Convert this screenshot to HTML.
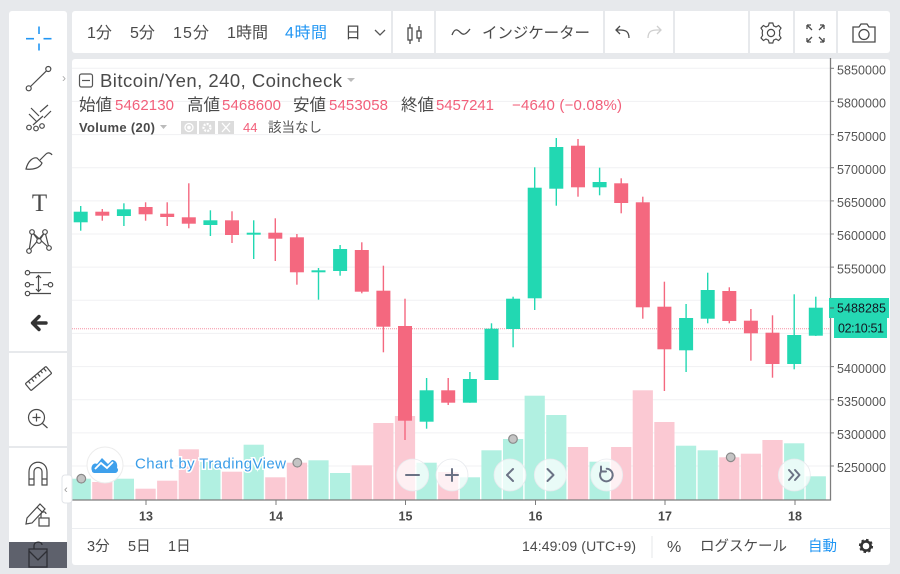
<!DOCTYPE html>
<html><head><meta charset="utf-8">
<style>
html,body{margin:0;padding:0;background:#e7e9ec;}
svg{display:block;}
text{font-family:"Liberation Sans","Noto Sans CJK JP",sans-serif;}
</style></head><body>
<svg width="900" height="574" viewBox="0 0 900 574" xmlns="http://www.w3.org/2000/svg">
<rect width="900" height="574" fill="#e7e9ec"/>
<!-- panels -->
<rect x="9" y="11" width="58" height="557" rx="3" fill="#fff"/>
<rect x="72" y="11" width="818" height="42" rx="3" fill="#fff"/>
<rect x="72" y="59" width="818" height="506" rx="3" fill="#fff"/>
<!-- toolbar separators -->
<g stroke="#e7e9ec" stroke-width="2">
<line x1="392" y1="11" x2="392" y2="53"/><line x1="435" y1="11" x2="435" y2="53"/>
<line x1="604" y1="11" x2="604" y2="53"/><line x1="674" y1="11" x2="674" y2="53"/>
<line x1="749" y1="11" x2="749" y2="53"/><line x1="794" y1="11" x2="794" y2="53"/>
<line x1="837" y1="11" x2="837" y2="53"/>
<line x1="9" y1="352" x2="67" y2="352"/><line x1="9" y1="447" x2="67" y2="447"/>
</g>
<!-- top toolbar text -->
<g font-size="16" fill="#4a4a4a">
<text x="87" y="38">1分</text>
<text x="130" y="38">5分</text>
<text x="173" y="38" textLength="36">15分</text>
<text x="227" y="38" textLength="41">1時間</text>
<text x="285" y="38" textLength="42" fill="#2196f3">4時間</text>
<text x="345" y="38">日</text>
<text x="482" y="38" textLength="108" font-size="15.5">インジケーター</text>
</g>
<path d="M375 30 L380 35 L385 30" stroke="#555" stroke-width="1.3" fill="none"/>
<!-- candle icon -->
<g stroke="#4a4a4a" stroke-width="1.3" fill="none">
<line x1="410" y1="24" x2="410" y2="44"/><rect x="408" y="28" width="4" height="12" fill="#fff"/>
<line x1="419" y1="26" x2="419" y2="42"/><rect x="417" y="31" width="4" height="7" fill="#fff"/>
<path d="M452 35 C455 27 458 30 461 33 C464 36 467 33 470 29"/>
<path d="M629 38 C629 31 625 30 620 30 H616 M620 26 L616 30 L620 34"/>
</g>
<path d="M648 38 C648 31 652 30 657 30 H661 M657 26 L661 30 L657 34" stroke="#cfcfcf" stroke-width="1.3" fill="none"/>
<!-- gear -->
<g transform="translate(771,33)" stroke="#4a4a4a" stroke-width="1.2" fill="none">
<circle r="3.6"/>
<path d="M-1.8 -10 L1.8 -10 L2.6 -7.2 L5 -6 L7.6 -7.5 L10 -4.9 L8.4 -2.4 L8.8 0 L8.4 2.4 L10 4.9 L7.6 7.5 L5 6 L2.6 7.2 L1.8 10 L-1.8 10 L-2.6 7.2 L-5 6 L-7.6 7.5 L-10 4.9 L-8.4 2.4 L-8.8 0 L-8.4 -2.4 L-10 -4.9 L-7.6 -7.5 L-5 -6 L-2.6 -7.2 Z"/>
</g>
<!-- fullscreen / camera -->
<g stroke="#4a4a4a" stroke-width="1.3" fill="none">
<path d="M807 25 L812 30 M807 25 H811 M807 25 V29"/>
<path d="M824 25 L819 30 M824 25 H820 M824 25 V29"/>
<path d="M807 42 L812 37 M807 42 H811 M807 42 V38"/>
<path d="M824 42 L819 37 M824 42 H820 M824 42 V38"/>
<path d="M853 27 H859 L861 24 H867 L869 27 H875 V42 H853 Z"/>
<circle cx="864" cy="34.5" r="5"/>
</g>
<!-- left toolbar icons -->
<g stroke="#2196f3" stroke-width="1.6">
<line x1="26" y1="38.7" x2="34" y2="38.7"/><line x1="43.5" y1="38.7" x2="51.5" y2="38.7"/>
<line x1="39" y1="26.5" x2="39" y2="34"/><line x1="39" y1="43.5" x2="39" y2="50.5"/>
</g>
<g stroke="#4a4a4a" stroke-width="1.2" fill="none">
<line x1="30.5" y1="86.5" x2="46.5" y2="70.8"/>
<circle cx="28.7" cy="88.3" r="2.5"/><circle cx="48.3" cy="69" r="2.5"/>
<!-- pitchfork -->
<path d="M31 108 L39 116 M29 114 L37 122 M40 112 L48 105 M44 118 L51 111 M33 125 L43 116"/>
<circle cx="29" cy="127.5" r="2.3"/><circle cx="36" cy="128.5" r="2.3"/><circle cx="42" cy="126" r="2.3"/>
<!-- brush -->
<path d="M26 169 C28 161 33 157 37 158 L42 163 C40 168 33 170 26 169 Z"/>
<path d="M40 160 L46 154 C48 152 51 153 52 155"/>
<!-- pattern -->
<path d="M29 251 L32 232 L39 241 L45 232 L49 248 M29 251 L45 232 M32 232 L49 248"/>
<circle cx="29" cy="251" r="2.3" fill="#fff"/><circle cx="32" cy="232" r="2.3" fill="#fff"/><circle cx="39" cy="241" r="2.3" fill="#fff"/><circle cx="45" cy="232" r="2.3" fill="#fff"/><circle cx="49" cy="248" r="2.3" fill="#fff"/>
<!-- fib -->
<path d="M30 272.7 H51 M30 284.7 H34 M43 284.7 H48 M30 293.5 H51 M38.5 276 V291 M36 278 L38.5 275.5 L41 278 M36 289 L38.5 291.5 L41 289"/>
<circle cx="27.5" cy="272.7" r="2.2"/><circle cx="27.5" cy="284.7" r="2.2"/><circle cx="27.5" cy="293.5" r="2.2"/><circle cx="50.5" cy="284.7" r="2.2"/>
<!-- ruler -->
<g transform="rotate(-40 38.5 378.5)"><rect x="25" y="374" width="27" height="9" rx="1"/>
<path d="M29 374 V377 M33 374 V378 M37 374 V377 M41 374 V378 M45 374 V377 M49 374 V378"/></g>
<!-- zoom -->
<circle cx="36.5" cy="417.5" r="8"/><path d="M42.5 423.5 L47.5 428 M32.5 417.5 H40.5 M36.5 413.5 V421.5"/>
<!-- magnet -->
<path d="M29 485 V472 C29 459 47 459 47 472 V485 H42 V472 C42 466 34 466 34 472 V485 Z M29 479 H34 M42 479 H47"/>
<!-- pencil lock -->
<path d="M27 518 L40 504 L45 509 L32 523 L26 524 Z M37 507 L42 512"/>
<rect x="39" y="518" width="10" height="8"/><path d="M41 518 V515 C41 511 46 511 46 514"/>
</g>
<path d="M46 323 H33 M39 316.5 L32.5 323 L39 329.5" stroke="#333" stroke-width="3.4" fill="none" stroke-linecap="round" stroke-linejoin="round"/>
<text x="39.5" y="211" font-size="25" fill="#4a4a4a" text-anchor="middle" style="font-family:'Liberation Serif',serif">T</text>
<text x="62" y="82" font-size="12" fill="#aaa">›</text>
<rect x="9" y="542" width="58" height="26" fill="#5e616c"/>
<path d="M29 551 L38 560 L47 551 M29 549 H47 V567 H29 Z M34 549 V546 C34 541 42 541 42 545" stroke="#2e2f35" stroke-width="1.3" fill="none"/>
<!-- gridlines -->
<g stroke="#f0f1f3" stroke-width="1">
<line x1="72" y1="68.3" x2="830" y2="68.3"/><line x1="72" y1="101.4" x2="830" y2="101.4"/>
<line x1="72" y1="134.6" x2="830" y2="134.6"/><line x1="72" y1="167.7" x2="830" y2="167.7"/>
<line x1="72" y1="200.9" x2="830" y2="200.9"/><line x1="72" y1="234" x2="830" y2="234"/>
<line x1="72" y1="267.1" x2="830" y2="267.1"/><line x1="72" y1="300.3" x2="830" y2="300.3"/>
<line x1="72" y1="333.4" x2="830" y2="333.4"/><line x1="72" y1="366.6" x2="830" y2="366.6"/>
<line x1="72" y1="399.7" x2="830" y2="399.7"/><line x1="72" y1="432.9" x2="830" y2="432.9"/>
<line x1="72" y1="466" x2="830" y2="466"/>
</g>
<!-- volume -->
<g fill="#b1f0e1">
<rect x="72" y="478.7" width="18.8" height="20.8"/>
<rect x="113.8" y="478.7" width="20.2" height="20.8"/>
<rect x="200.3" y="462" width="20.2" height="37.5"/>
<rect x="243.6" y="444.7" width="20.2" height="54.8"/>
<rect x="308.4" y="460.3" width="20.2" height="39.2"/>
<rect x="330" y="473" width="20.2" height="26.5"/>
<rect x="416.5" y="462.7" width="20.2" height="36.8"/>
<rect x="459.8" y="477.3" width="20.2" height="22.2"/>
<rect x="481.4" y="450.3" width="20.2" height="49.2"/>
<rect x="503" y="439" width="20.2" height="60.5"/>
<rect x="524.6" y="395.7" width="20.2" height="103.8"/>
<rect x="546.2" y="415" width="20.2" height="84.5"/>
<rect x="589.5" y="461.7" width="20.2" height="37.8"/>
<rect x="676" y="445.7" width="20.2" height="53.8"/>
<rect x="697.6" y="450.3" width="20.2" height="49.2"/>
<rect x="784.1" y="443.3" width="20.2" height="56.2"/>
<rect x="805.7" y="476.3" width="20.2" height="23.2"/>
</g>
<g fill="#fbc9d3">
<rect x="92.2" y="482" width="20.2" height="17.5"/>
<rect x="135.5" y="488.7" width="20.2" height="10.8"/>
<rect x="157.1" y="480.7" width="20.2" height="18.8"/>
<rect x="178.7" y="449.3" width="20.2" height="50.2"/>
<rect x="221.9" y="471.7" width="20.2" height="27.8"/>
<rect x="265.2" y="477.3" width="20.2" height="22.2"/>
<rect x="286.8" y="462.7" width="20.2" height="36.8"/>
<rect x="351.7" y="465.3" width="20.2" height="34.2"/>
<rect x="373.3" y="423" width="20.2" height="76.5"/>
<rect x="394.9" y="416" width="20.2" height="83.5"/>
<rect x="438.1" y="472" width="20.2" height="27.5"/>
<rect x="567.9" y="447" width="20.2" height="52.5"/>
<rect x="611.1" y="447" width="20.2" height="52.5"/>
<rect x="632.7" y="390.3" width="20.2" height="109.2"/>
<rect x="654.3" y="422" width="20.2" height="77.5"/>
<rect x="719.2" y="457.3" width="20.2" height="42.2"/>
<rect x="740.8" y="453.7" width="20.2" height="45.8"/>
<rect x="762.4" y="440" width="20.2" height="59.5"/>
</g>
<!-- dotted line -->
<line x1="72" y1="328.7" x2="830" y2="328.7" stroke="#f590a3" stroke-width="1" stroke-dasharray="1 1"/>
<!-- candles green -->
<g fill="#22d8b2">
<rect x="80" y="206" width="1.4" height="24.7"/><rect x="73.7" y="211.7" width="14" height="10.6"/>
<rect x="123.2" y="203.3" width="1.4" height="22.7"/><rect x="116.9" y="209.3" width="14" height="6.7"/>
<rect x="209.7" y="210.3" width="1.4" height="25.7"/><rect x="203.4" y="220.3" width="14" height="4.7"/>
<rect x="253" y="220.3" width="1.4" height="38.7"/><rect x="246.7" y="232.7" width="14" height="2"/>
<rect x="317.8" y="268" width="1.4" height="31.7"/><rect x="311.5" y="270.3" width="14" height="2"/>
<rect x="339.4" y="245" width="1.4" height="30.7"/><rect x="333.1" y="249" width="14" height="22"/>
<rect x="425.9" y="378" width="1.4" height="50.7"/><rect x="419.6" y="390.3" width="14" height="31.4"/>
<rect x="469.2" y="372" width="1.4" height="30.7"/><rect x="462.9" y="379" width="14" height="23.7"/>
<rect x="490.8" y="323.3" width="1.4" height="56.7"/><rect x="484.5" y="328.7" width="14" height="51.3"/>
<rect x="512.4" y="296.7" width="1.4" height="50.6"/><rect x="506.1" y="298.7" width="14" height="30.3"/>
<rect x="534" y="167.3" width="1.4" height="142.7"/><rect x="527.7" y="187.7" width="14" height="110.6"/>
<rect x="555.6" y="138" width="1.4" height="67.7"/><rect x="549.3" y="147" width="14" height="41.7"/>
<rect x="598.9" y="167.7" width="1.4" height="27.6"/><rect x="592.6" y="182" width="14" height="5.3"/>
<rect x="685.4" y="304" width="1.4" height="68"/><rect x="679.1" y="318" width="14" height="32.3"/>
<rect x="707" y="272.7" width="1.4" height="50.6"/><rect x="700.7" y="290" width="14" height="28.7"/>
<rect x="793.5" y="294.3" width="1.4" height="75"/><rect x="787.2" y="335" width="14" height="29"/>
<rect x="815.1" y="296.7" width="1.4" height="39.3"/><rect x="808.8" y="307.7" width="14" height="28"/>
</g>
<!-- candles red -->
<g fill="#f4687f">
<rect x="101.6" y="209" width="1.4" height="11.7"/><rect x="95.3" y="211.7" width="14" height="4"/>
<rect x="144.9" y="202.3" width="1.4" height="18.4"/><rect x="138.6" y="207" width="14" height="7.3"/>
<rect x="166.5" y="202.3" width="1.4" height="23.7"/><rect x="160.2" y="213.7" width="14" height="3.3"/>
<rect x="188.1" y="183.3" width="1.4" height="45"/><rect x="181.8" y="217.3" width="14" height="6.4"/>
<rect x="231.3" y="211.3" width="1.4" height="31.7"/><rect x="225" y="220.3" width="14" height="14.7"/>
<rect x="274.6" y="218.3" width="1.4" height="42.7"/><rect x="268.3" y="232.7" width="14" height="6"/>
<rect x="296.2" y="234" width="1.4" height="50.7"/><rect x="289.9" y="237.3" width="14" height="35"/>
<rect x="361.1" y="242.3" width="1.4" height="51"/><rect x="354.8" y="250" width="14" height="41.7"/>
<rect x="382.7" y="265.7" width="1.4" height="86.6"/><rect x="376.4" y="290.7" width="14" height="36"/>
<rect x="404.3" y="298.7" width="1.4" height="141.3"/><rect x="398" y="326" width="14" height="94.7"/>
<rect x="447.5" y="378" width="1.4" height="27"/><rect x="441.2" y="390.3" width="14" height="12.4"/>
<rect x="577.3" y="139" width="1.4" height="57.7"/><rect x="571" y="145.7" width="14" height="41.6"/>
<rect x="620.5" y="178.3" width="1.4" height="35"/><rect x="614.2" y="183.3" width="14" height="19.7"/>
<rect x="642.1" y="196.7" width="1.4" height="122"/><rect x="635.8" y="202.3" width="14" height="105"/>
<rect x="663.7" y="281.7" width="1.4" height="109.3"/><rect x="657.4" y="306.7" width="14" height="42.6"/>
<rect x="728.6" y="287.3" width="1.4" height="36"/><rect x="722.3" y="291" width="14" height="30"/>
<rect x="750.2" y="309" width="1.4" height="51.7"/><rect x="743.9" y="320.7" width="14" height="12.6"/>
<rect x="771.8" y="315.3" width="1.4" height="62.4"/><rect x="765.5" y="332.7" width="14" height="31.3"/>
</g>
<!-- markers -->
<g fill="#c4c4c4" stroke="#8a8a8a" stroke-width="1.2">
<circle cx="81.3" cy="478.7" r="4.3"/><circle cx="297.3" cy="462.7" r="4.3"/>
<circle cx="513" cy="439" r="4.3"/><circle cx="730.7" cy="457.3" r="4.3"/>
</g>
<!-- TradingView logo -->
<circle cx="105" cy="465" r="18" fill="#fff" stroke="#ececec" stroke-width="1"/>
<path d="M92 471 C90 466 94 462 97 464 L102 458 L108 464 L112 460 C116 460 118 464 117 468 C119 469 118 473 115 473 H95 C93 473 92 472 92 471 Z" fill="#3ea0ec"/>
<path d="M95 469 L101 463 L107 468 L113 462" stroke="#fff" stroke-width="1.8" fill="none"/>
<text x="135" y="468.5" font-size="15" fill="#3a9de8" stroke="#fff" stroke-width="3" paint-order="stroke" textLength="151">Chart by TradingView</text>
<!-- nav buttons -->
<g fill="#fff" fill-opacity="0.72" stroke="#e8eaee" stroke-width="0.8">
<circle cx="412.7" cy="475" r="16"/><circle cx="452" cy="475" r="16"/>
<circle cx="510" cy="475" r="16"/><circle cx="550.3" cy="475" r="16"/>
<circle cx="606.7" cy="475" r="16"/><circle cx="794.3" cy="475" r="16"/>
</g>
<g stroke="#6b7285" stroke-width="2" fill="none" stroke-linecap="round" stroke-linejoin="round">
<path d="M406 475 H419"/><path d="M446 475 H458 M452 469 V481"/>
<path d="M513 469 L507 475 L513 481"/><path d="M547.5 469 L553.5 475 L547.5 481"/>
<path d="M601.5 471 A6.3 6.3 0 1 0 606.7 468.7 M601 466.5 V471.5 H606"/>
<path d="M789 470 L793.5 475 L789 480 M795 470 L799.5 475 L795 480"/>
</g>
<!-- axes -->
<line x1="830.5" y1="58" x2="830.5" y2="500.5" stroke="#7d7d7d" stroke-width="1.3"/>
<line x1="72" y1="500" x2="831" y2="500" stroke="#7d7d7d" stroke-width="1.3"/>
<line x1="72" y1="528.5" x2="890" y2="528.5" stroke="#eceef1" stroke-width="1"/>
<g stroke="#7d7d7d" stroke-width="1">
<line x1="830" y1="68.3" x2="834" y2="68.3"/><line x1="830" y1="101.4" x2="834" y2="101.4"/>
<line x1="830" y1="134.6" x2="834" y2="134.6"/><line x1="830" y1="167.7" x2="834" y2="167.7"/>
<line x1="830" y1="200.9" x2="834" y2="200.9"/><line x1="830" y1="234" x2="834" y2="234"/>
<line x1="830" y1="267.1" x2="834" y2="267.1"/><line x1="830" y1="366.6" x2="834" y2="366.6"/>
<line x1="830" y1="399.7" x2="834" y2="399.7"/><line x1="830" y1="432.9" x2="834" y2="432.9"/>
<line x1="830" y1="466" x2="834" y2="466"/>
<line x1="146" y1="500" x2="146" y2="505"/><line x1="276" y1="500" x2="276" y2="505"/>
<line x1="405.5" y1="500" x2="405.5" y2="505"/><line x1="535.5" y1="500" x2="535.5" y2="505"/>
<line x1="665" y1="500" x2="665" y2="505"/><line x1="795" y1="500" x2="795" y2="505"/>
</g>
<g font-size="12.5" fill="#555">
<text x="837" y="74.5" textLength="49">5850000</text>
<text x="837" y="107.6" textLength="49">5800000</text>
<text x="837" y="140.8" textLength="49">5750000</text>
<text x="837" y="173.9" textLength="49">5700000</text>
<text x="837" y="207.1" textLength="49">5650000</text>
<text x="837" y="240.2" textLength="49">5600000</text>
<text x="837" y="273.3" textLength="49">5550000</text>
<text x="837" y="372.8" textLength="49">5400000</text>
<text x="837" y="405.9" textLength="49">5350000</text>
<text x="837" y="439.1" textLength="49">5300000</text>
<text x="837" y="472.2" textLength="49">5250000</text>
</g>
<rect x="829" y="298" width="60" height="20" fill="#25d9b4"/>
<rect x="834" y="318" width="53" height="20" fill="#25d9b4"/>
<line x1="830" y1="308" x2="834" y2="308" stroke="#555"/>
<text x="837" y="312.5" font-size="12.5" fill="#131722" textLength="49">5488285</text>
<text x="838" y="332.5" font-size="12.5" fill="#131722" textLength="46">02:10:51</text>
<g font-size="12.5" font-weight="bold" fill="#4a4a4a" text-anchor="middle">
<text x="146" y="520.5">13</text><text x="276" y="520.5">14</text><text x="405.5" y="520.5">15</text>
<text x="535.5" y="520.5">16</text><text x="665" y="520.5">17</text><text x="795" y="520.5">18</text>
</g>
<!-- collapse button -->
<rect x="62" y="475" width="10" height="28" rx="3" fill="#fff" stroke="#e2e4e8"/>
<text x="64" y="493" font-size="11" fill="#999">‹</text>
<!-- legend -->
<rect x="79.5" y="74" width="13" height="13" rx="2" fill="none" stroke="#555" stroke-width="1.2"/>
<line x1="82" y1="80.5" x2="90" y2="80.5" stroke="#555" stroke-width="1.2"/>
<text x="100" y="87" font-size="18.5" fill="#4a4a4a" textLength="242">Bitcoin/Yen, 240, Coincheck</text>
<path d="M347 78 L355 78 L351 82 Z" fill="#bbb"/>
<g font-size="16.5" fill="#4a4a4a">
<text x="79" y="110.5">始値</text>
<text x="187" y="110.5">高値</text>
<text x="293" y="110.5">安値</text>
<text x="401" y="110.5">終値</text>
</g>
<g font-size="15" fill="#f2607b">
<text x="115" y="110" textLength="59">5462130</text>
<text x="222" y="110" textLength="59">5468600</text>
<text x="329" y="110" textLength="59">5453058</text>
<text x="436" y="110" textLength="58">5457241</text>
<text x="512" y="110" textLength="110">−4640 (−0.08%)</text>
</g>
<text x="79" y="132" font-size="13" font-weight="bold" fill="#4a4a4a" textLength="76">Volume (20)</text>
<path d="M160 125 L167 125 L163.5 129 Z" fill="#bbb"/>
<rect x="181" y="121" width="16" height="13" fill="#dcdcdc"/>
<rect x="199" y="121" width="16" height="13" fill="#dcdcdc"/>
<rect x="218" y="121" width="16" height="13" fill="#dcdcdc"/>
<g stroke="#fff" stroke-width="1.3" fill="none">
<circle cx="189" cy="127.5" r="4"/><circle cx="189" cy="127.5" r="1.2" fill="#fff"/>
<circle cx="207" cy="127.5" r="3.5" stroke-dasharray="2 1.2" stroke-width="2.2"/>
<path d="M222 123 L230 132 M230 123 L222 132"/>
</g>
<text x="243" y="132" font-size="13" fill="#f2607b">44</text>
<text x="268" y="132" font-size="13.5" fill="#555">該当なし</text>
<!-- bottom bar -->
<g font-size="14.5" fill="#4a4a4a">
<text x="87" y="551">3分</text>
<text x="128" y="551">5日</text>
<text x="168" y="551">1日</text>
<text x="522" y="551" font-size="14" textLength="114">14:49:09 (UTC+9)</text>
<text x="667" y="552" font-size="16">%</text>
<text x="700" y="551" textLength="87">ログスケール</text>
<text x="808" y="551" textLength="29" fill="#2196f3">自動</text>
</g>
<line x1="652" y1="536" x2="652" y2="558" stroke="#e5e7ea"/>
<g transform="translate(866,546)">
<circle r="5.5" fill="none" stroke="#333" stroke-width="3.2" stroke-dasharray="2.2 2.1"/>
<circle r="4.6" fill="none" stroke="#333" stroke-width="2.6"/>
<circle r="1.8" fill="#fff"/>
</g>
</svg>
</body></html>
